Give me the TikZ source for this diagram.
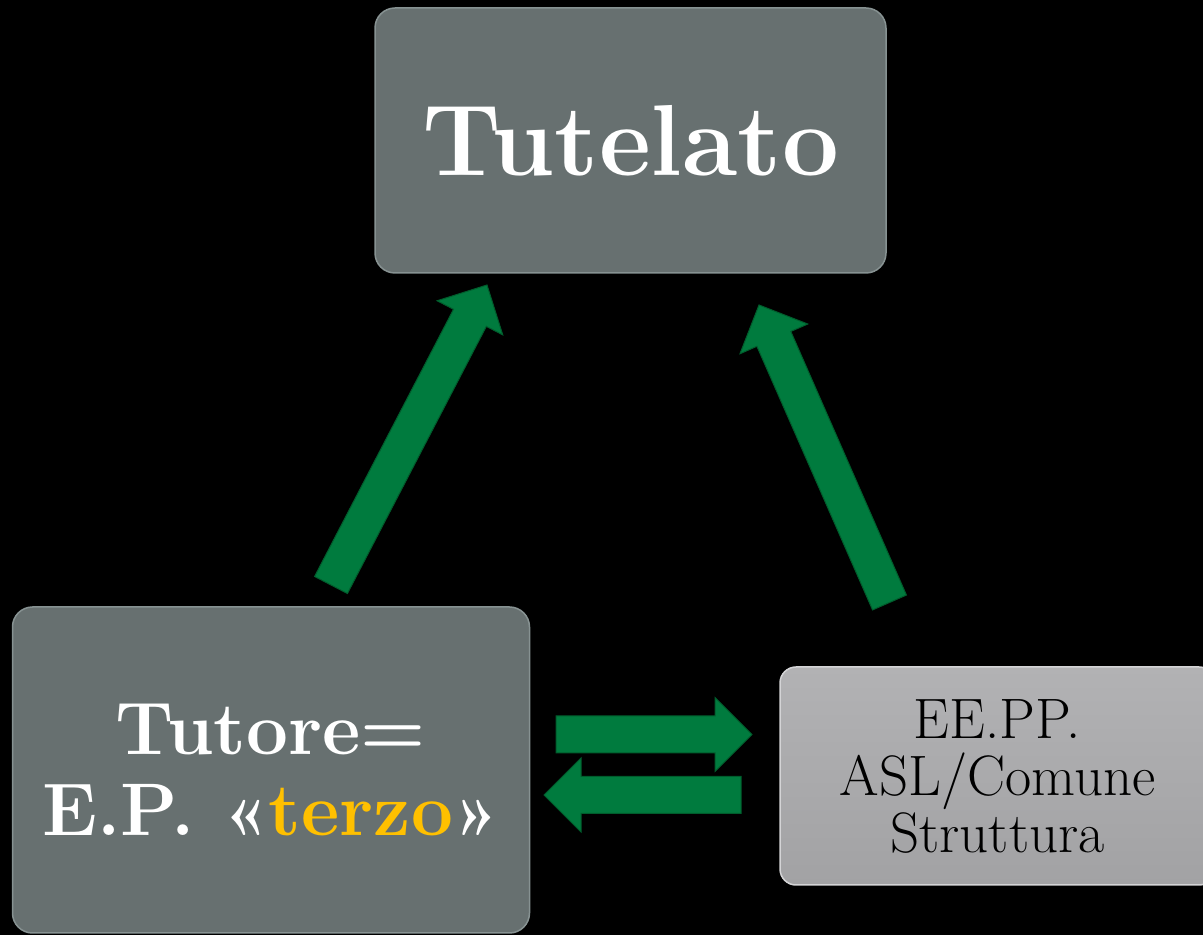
\documentclass[tikz,border=0pt]{standalone}
\usepackage{fontspec}
\usetikzlibrary{calc}
\definecolor{boxdark}{RGB}{103,112,112}
\definecolor{boxdarkrim}{RGB}{135,146,146}
\definecolor{boxlight}{RGB}{171,171,173}
\definecolor{boxlighttop}{RGB}{178,178,180}
\definecolor{boxlightbot}{RGB}{162,162,164}
\definecolor{boxlightrim}{RGB}{212,212,214}
\definecolor{arrgreen}{RGB}{0,123,62}
\definecolor{arrrim}{RGB}{0,92,44}
\definecolor{gold}{RGB}{255,192,0}
\newcommand{\blockarrowpath}[2]{%
  \coordinate (ba-b) at ($(#2)!37pt!(#1)$);
  \path[blockarrow] ($(#1)!18.5pt!90:(#2)$) -- ($(ba-b)!18.5pt!-90:(#1)$)
    -- ($(ba-b)!37pt!-90:(#1)$) -- (#2) -- ($(ba-b)!37pt!90:(#1)$)
    -- ($(ba-b)!18.5pt!90:(#1)$) -- ($(#1)!18.5pt!-90:(#2)$) -- cycle;}
\begin{document}
\begin{tikzpicture}[x=1pt,y=1pt,
  darkbox/.style={draw=boxdarkrim, line width=1.5pt, fill=boxdark, rounded corners=20pt, text=white, align=center, inner sep=0pt},
  lightbox/.style={draw=boxlightrim, line width=1.5pt, top color=boxlighttop, bottom color=boxlightbot, rounded corners=16pt, text=black, align=center, inner sep=0pt},
  blockarrow/.style={fill=arrgreen, draw=arrrim, line width=1pt, line join=miter}]
\fill[black] (0,0) rectangle (1203,935);
\useasboundingbox (0,0) rectangle (1203,935);

\node[darkbox, minimum width=511pt, minimum height=265pt, font=\fontsize{101}{104}\selectfont\bfseries] (tutelato) at (630.5,794.5) {Tutelato};
\node[darkbox, minimum width=517pt, minimum height=326pt, font=\fontsize{74.5}{81}\selectfont\bfseries] (tutore) at (271,165) {Tutore=\\E.P. «\textcolor{gold}{terzo}»};
\node[lightbox, minimum width=435pt, minimum height=218pt, font=\fontsize{57}{57}\selectfont] (enti) at (997.5,159) {EE.PP.\\ASL/Comune\\Struttura};

\coordinate (a1t) at (331,350);   \coordinate (a1h) at (487,650);
\coordinate (a2t) at (889.5,332.5); \coordinate (a2h) at (759,630);
\coordinate (a3t) at (556,200.5); \coordinate (a3h) at (752,200.5);
\coordinate (a4t) at (741,140);   \coordinate (a4h) at (544,140);

\blockarrowpath{a1t}{a1h}
\blockarrowpath{a2t}{a2h}
\blockarrowpath{a3t}{a3h}
\blockarrowpath{a4t}{a4h}
\end{tikzpicture}
\end{document}
